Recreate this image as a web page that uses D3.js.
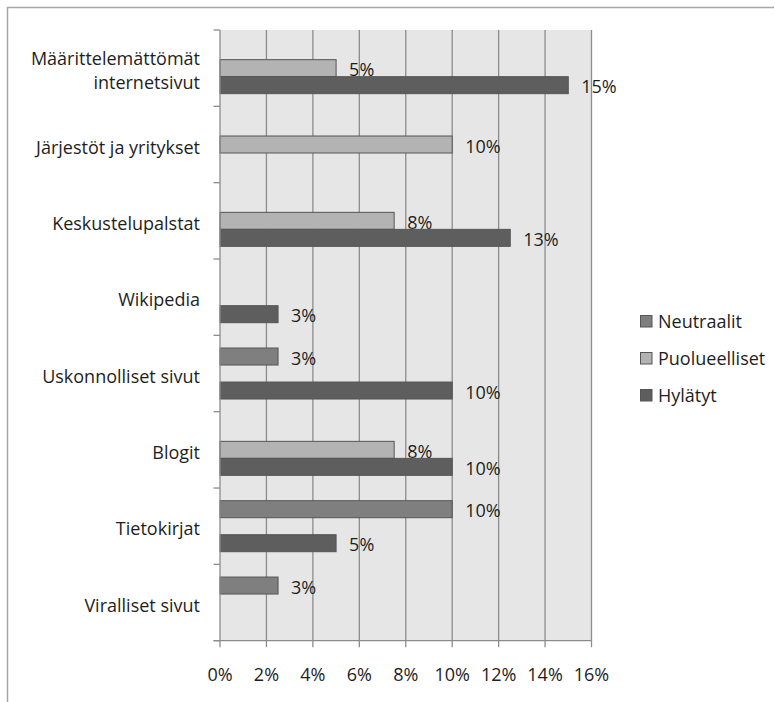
<!DOCTYPE html>
<html>
<head>
<meta charset="utf-8">
<script src="https://cdn.jsdelivr.net/npm/d3@7"></script>
<style>
  html, body { margin: 0; padding: 0; background: #fff; }
  svg { display: block; }
  text { font-family: "Open Sans", Lato, sans-serif; fill: #1e1e1e; }
</style>
</head>
<body>
<svg id="chart" width="775" height="702"></svg>
<script>
const categories = [
  "Määrittelemättömät internetsivut",
  "Järjestöt ja yritykset",
  "Keskustelupalstat",
  "Wikipedia",
  "Uskonnolliset sivut",
  "Blogit",
  "Tietokirjat",
  "Viralliset sivut"
];
const seriesNames = ["Neutraalit", "Puolueelliset", "Hylätyt"];
const neutraalit    = [null, null, null, null, 0.025, null, 0.10, 0.025];
const puolueelliset = [0.05, 0.10, 0.075, null, null, 0.075, null, null];
const hylatyt       = [0.15, null, 0.125, 0.025, 0.10, 0.10, 0.05, null];
const xTicks = [0, 0.02, 0.04, 0.06, 0.08, 0.10, 0.12, 0.14, 0.16];
const seriesColors = ["#7f7f7f", "#b3b3b3", "#5e5e5e"];

const seriesValues = [neutraalit, puolueelliset, hylatyt];
const FS = 18;

const svg = d3.select("#chart");

// outer chart border
svg.append("path")
  .attr("d", "M7.5,710 V7.5 H774")
  .attr("fill", "none").attr("stroke", "#a6a6a6").attr("stroke-width", 1.5);

const x = d3.scaleLinear().domain([0, 0.16]).range([220, 591.5]);
const y = d3.scaleBand().domain(categories).range([30, 640.7]).padding(0);
const ySub = d3.scaleBand().domain(seriesNames).range([0, y.bandwidth()])
  .paddingInner(0).paddingOuter(0.745);

// plot background
svg.append("rect")
  .attr("x", x(0)).attr("y", y.range()[0])
  .attr("width", x(0.16) - x(0)).attr("height", y.range()[1] - y.range()[0])
  .attr("fill", "#e6e6e6");

// gridlines
svg.append("g").selectAll("line").data(xTicks.slice(1)).join("line")
  .attr("x1", d => x(d)).attr("x2", d => x(d))
  .attr("y1", y.range()[0]).attr("y2", y.range()[1])
  .attr("stroke", "#8c8c8c").attr("stroke-width", 1.3);

// bars
const groups = svg.append("g").selectAll("g").data(seriesNames).join("g")
  .attr("fill", (d, i) => seriesColors[i]);
groups.each(function(s, si) {
  const vals = seriesValues[si];
  const data = categories.map((c, ci) => ({c, v: vals[ci]})).filter(d => d.v != null);
  d3.select(this).selectAll("rect").data(data).join("rect")
    .attr("x", x(0))
    .attr("y", d => y(d.c) + ySub(s))
    .attr("width", d => x(d.v) - x(0))
    .attr("height", ySub.bandwidth())
    .attr("stroke", "#555").attr("stroke-width", 1);
  d3.select(this).selectAll("text").data(data).join("text")
    .attr("x", d => x(d.v) + 13)
    .attr("y", d => y(d.c) + ySub(s) + ySub.bandwidth() / 2 + 8)
    .attr("font-size", FS)
    .text(d => d3.format(".0%")(d.v));
});

// y axis
const yAxisG = svg.append("g");
yAxisG.append("line")
  .attr("x1", x(0)).attr("x2", x(0))
  .attr("y1", y.range()[0]).attr("y2", y.range()[1])
  .attr("stroke", "#8c8c8c").attr("stroke-width", 1.3);
const yBounds = categories.map(c => y(c)).concat([y.range()[1]]);
yAxisG.selectAll("line.tick").data(yBounds).join("line").attr("class", "tick")
  .attr("x1", x(0) - 6.5).attr("x2", x(0))
  .attr("y1", d => d).attr("y2", d => d)
  .attr("stroke", "#8c8c8c").attr("stroke-width", 1.3);

// category labels with wrapping
yAxisG.selectAll("text.cat").data(categories).join("text").attr("class", "cat")
  .attr("text-anchor", "end")
  .attr("font-size", FS)
  .each(function(c) {
    const t = d3.select(this);
    const words = c.split(" ");
    const lines = [];
    let cur = "";
    words.forEach(w => {
      const test = cur ? cur + " " + w : w;
      t.text(test);
      if (this.getComputedTextLength() > 190 && cur) { lines.push(cur); cur = w; }
      else cur = test;
    });
    lines.push(cur);
    t.text(null);
    const lh = 24;
    const cy = y(c) + y.bandwidth() / 2 + 9 - (lines.length - 1) * lh / 2;
    lines.forEach((ln, i) => {
      t.append("tspan").attr("x", 200).attr("y", cy + i * lh).text(ln);
    });
  });

// x axis
const xAxisG = svg.append("g");
xAxisG.append("line")
  .attr("x1", x(0) - 6.5).attr("x2", x(0.16))
  .attr("y1", y.range()[1]).attr("y2", y.range()[1])
  .attr("stroke", "#8c8c8c").attr("stroke-width", 1.3);
xAxisG.selectAll("line.tick").data(xTicks).join("line").attr("class", "tick")
  .attr("x1", d => x(d)).attr("x2", d => x(d))
  .attr("y1", y.range()[1]).attr("y2", y.range()[1] + 6.5)
  .attr("stroke", "#8c8c8c").attr("stroke-width", 1.3);
xAxisG.selectAll("text").data(xTicks).join("text")
  .attr("x", d => x(d)).attr("y", 681)
  .attr("text-anchor", "middle")
  .attr("font-size", FS)
  .text(d => d3.format(".0%")(d));

// legend
const legend = svg.append("g").selectAll("g").data(seriesNames).join("g")
  .attr("transform", (d, i) => `translate(640, ${315 + i * 37})`);
legend.append("rect")
  .attr("x", 0.5).attr("y", 0.5).attr("width", 11.5).attr("height", 11.5)
  .attr("fill", (d, i) => seriesColors[i])
  .attr("stroke", "#555").attr("stroke-width", 1);
legend.append("text")
  .attr("x", 18).attr("y", 13)
  .attr("font-size", FS)
  .text(d => d);
</script>
</body>
</html>
